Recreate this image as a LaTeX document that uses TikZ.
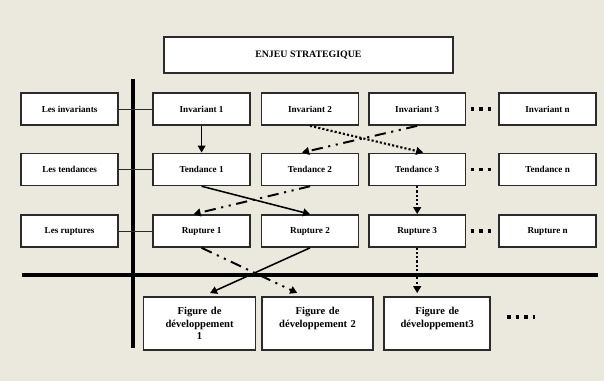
\documentclass[tikz,border=0pt]{standalone}
\usepackage{fontspec}
\setmainfont{Liberation Serif}
\usepackage{xcolor}
\usepackage{tikz}
\usetikzlibrary{backgrounds}
\usetikzlibrary{arrows.meta}
\definecolor{paper}{HTML}{EBE9DD}
\definecolor{frame}{HTML}{2B2B2B}

\begin{document}
\begin{tikzpicture}
[background rectangle/.style={fill=paper},
show background rectangle,inner frame sep=0pt,
>={Triangle[length=5pt,width=5.5pt]},
cell/.style={rectangle,draw=frame,fill=white,line width=1.2pt,minimum width=2.42cm,minimum height=0.8cm,inner sep=1pt,font=\bfseries\fontsize{6.5}{8}\selectfont},
head/.style={cell,minimum width=7.22cm,minimum height=0.9cm,font=\bfseries\fontsize{7}{8}\selectfont},
figr/.style={cell,minimum width=2.8cm,minimum height=1.33cm,text width=2.6cm,align=center,font=\bfseries\fontsize{7.5}{9}\selectfont},
axis/.style={-,draw=black,line width=3pt},
link/.style={-,draw=frame,line width=0.7pt},
plain/.style={->,draw=black,line width=1.1pt},
dott/.style={->,draw=black,line width=1.5pt,dash pattern=on 1.5pt off 1.5pt},
dashdot/.style={->,draw=black,line width=1.4pt,dash pattern=on 8pt off 4pt on 1.5pt off 4pt on 1.5pt off 4pt},
more/.style={-,draw=black,line width=2.7pt,dash pattern=on 2.7pt off 3.3pt}]

\useasboundingbox (0,0) rectangle (15.1,9.525);

\node at (7.71,8.15) [head] (enjeu) {ENJEU STRATEGIQUE};

\coordinate (vtop) at (3.325,7.55);
\coordinate (vbot) at (3.325,0.825);
\coordinate (hleft) at (0.55,2.65);
\coordinate (hright) at (14.95,2.65);
\draw [axis] (vtop) -- (vbot);
\draw [axis] (hleft) -- (hright);

\node at (1.74,6.8)  [cell] (labi) {Les invariants};
\node at (1.74,5.29) [cell] (labt) {Les tendances};
\node at (1.74,3.75) [cell] (labr) {Les ruptures};

\node at (5.04,6.8)  [cell] (inv1) {Invariant 1};
\node at (7.75,6.8)  [cell] (inv2) {Invariant 2};
\node at (10.43,6.8) [cell] (inv3) {Invariant 3};
\node at (13.69,6.8) [cell] (invn) {Invariant n};

\node at (5.04,5.29)  [cell] (ten1) {Tendance 1};
\node at (7.75,5.29)  [cell] (ten2) {Tendance 2};
\node at (10.43,5.29) [cell] (ten3) {Tendance 3};
\node at (13.69,5.29) [cell] (tenn) {Tendance n};

\node at (5.04,3.75)  [cell] (rup1) {Rupture 1};
\node at (7.75,3.75)  [cell] (rup2) {Rupture 2};
\node at (10.43,3.75) [cell] (rup3) {Rupture 3};
\node at (13.69,3.75) [cell] (rupn) {Rupture n};

\node at (4.99,1.44)  [figr] (fig1) {Figure de\\développement\\1};
\node at (7.94,1.44)  [figr,minimum width=2.78cm] (fig2) {Figure de\\développement 2\\~};
\node at (10.93,1.44) [figr,minimum width=2.65cm,text width=2.5cm] (fig3) {Figure de\\développement3\\~};

\draw [link] (labi.east) to (inv1.west);
\draw [link] (labt.east) to (ten1.west);
\draw [link] (labr.east) to (rup1.west);

\draw [more,shorten <=3pt,shorten >=3pt] (inv3.east) to (invn.west);
\draw [more,shorten <=3pt,shorten >=3pt] (ten3.east) to (tenn.west);
\draw [more,shorten <=3pt,shorten >=3pt] (rup3.east) to (rupn.west);
\coordinate (dotsa) at (12.68,1.6);
\coordinate (dotsb) at (13.38,1.6);
\draw [more] (dotsa) to (dotsb);

\draw [plain] (inv1.south) to (ten1.north);
\draw [dott] (inv2.south) to ([xshift=0.15cm]ten3.north);
\draw [dashdot] (inv3.south) to ([xshift=-0.2cm]ten2.north);
\draw [plain] (ten1.south) to (rup2.north);
\draw [dashdot] (ten2.south) to ([xshift=-0.2cm]rup1.north);
\draw [dott] (ten3.south) to (rup3.north);
\draw [dashdot,shorten >=5pt] (rup1.south) to ([xshift=-0.35cm]fig2.north);
\draw [plain,shorten >=5pt] (rup2.south) to ([xshift=0.1cm]fig1.north);
\draw [dott,shorten >=2pt] (rup3.south) to (rup3.south |- fig3.north);
\end{tikzpicture}
\end{document}
